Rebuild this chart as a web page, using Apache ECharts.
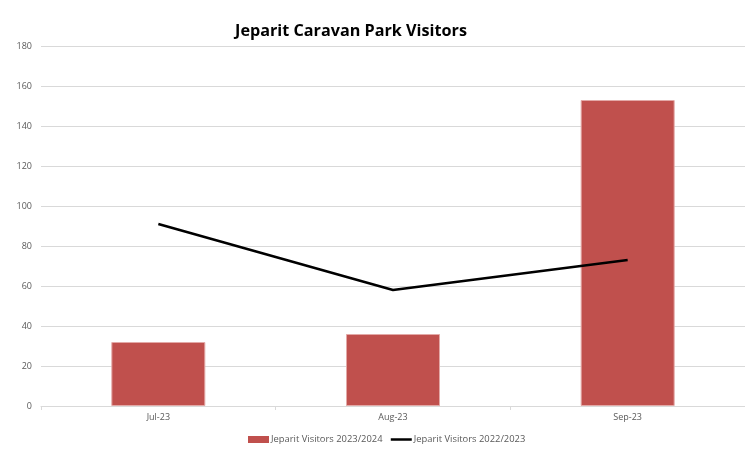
<!DOCTYPE html>
<html>
<head>
<meta charset="utf-8">
<script src="https://cdn.jsdelivr.net/npm/echarts@6/dist/echarts.min.js"></script>
<style>
  html, body { margin: 0; padding: 0; background: #fff; }
  #chart { width: 745px; height: 461px; }
</style>
</head>
<body>
<div id="chart"></div>
<script>
// Monthly visitor counts at the Jeparit caravan park
const months = ['Jul-23', 'Aug-23', 'Sep-23'];
const visitors2023_24 = [32, 36, 153];
const visitors2022_23 = [91, 58, 73];
const yTicks = { min: 0, max: 180, interval: 20 };

const chart = echarts.init(document.getElementById('chart'));
chart.setOption({
  animation: false,
  backgroundColor: '#ffffff',
  title: {
    text: 'Jeparit Caravan Park Visitors',
    left: 346,
    textAlign: 'center',
    top: 18,
    textStyle: { fontFamily: 'Open Sans', fontWeight: 'bold', fontSize: 16.2, color: '#000' }
  },
  legend: {
    bottom: 12,
    left: 243,
    itemGap: 7,
    itemWidth: 21,
    itemHeight: 7,
    textStyle: { fontFamily: 'Open Sans', fontSize: 9.4, color: '#595959', padding: [0, 0, 0, -3] },
    data: [
      { name: 'Jeparit Visitors 2023/2024', icon: 'rect', itemStyle: { borderWidth: 0 } },
      {
        name: 'Jeparit Visitors 2022/2023',
        itemStyle: { opacity: 0 },
        lineStyle: { color: '#000', width: 2.5, opacity: 1 }
      }
    ]
  },
  grid: { left: 41, right: 0, top: 46, bottom: 55 },
  xAxis: {
    type: 'category',
    data: months,
    axisLine: { lineStyle: { color: '#d9d9d9', width: 1 } },
    axisTick: { show: true, length: 4, lineStyle: { color: '#d9d9d9' } },
    axisLabel: { fontFamily: 'Open Sans', fontSize: 9, color: '#595959', margin: 7 }
  },
  yAxis: {
    type: 'value',
    min: yTicks.min,
    max: yTicks.max,
    interval: yTicks.interval,
    axisLine: { show: false },
    axisTick: { show: false },
    splitLine: { lineStyle: { color: '#d9d9d9', width: 1 } },
    axisLabel: { fontFamily: 'Open Sans', fontSize: 9, color: '#595959', margin: 9 }
  },
  series: [
    {
      name: 'Jeparit Visitors 2023/2024',
      type: 'bar',
      data: visitors2023_24,
      barWidth: 94,
      itemStyle: { color: '#c0504d', borderColor: '#e3a9a7', borderWidth: 1 }
    },
    {
      name: 'Jeparit Visitors 2022/2023',
      type: 'line',
      data: visitors2022_23,
      symbol: 'none',
      lineStyle: { color: '#000', width: 2.5 },
      itemStyle: { color: '#000' }
    }
  ]
});
</script>
</body>
</html>
